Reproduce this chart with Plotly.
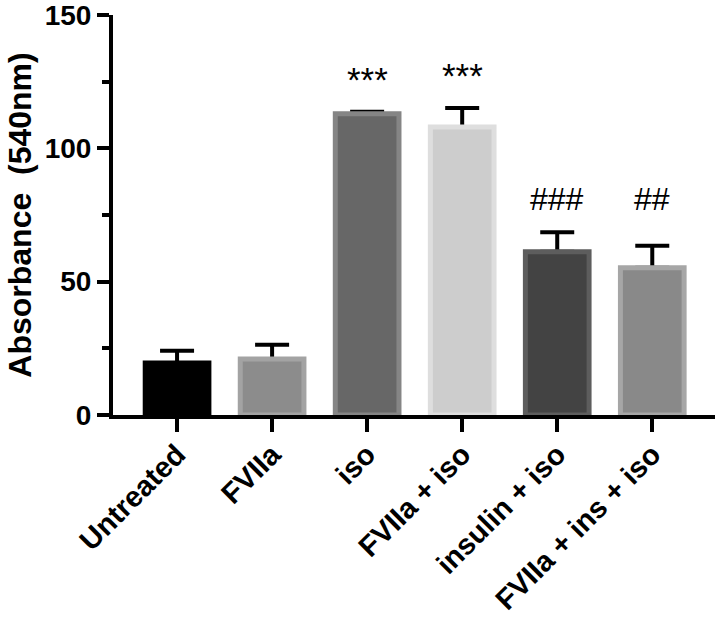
import plotly.graph_objects as go

categories = ["Untreated", "FVIIa", "iso", "FVIIa + iso", "insulin + iso", "FVIIa + ins + iso"]
means = [19.5, 21.0, 113.0, 108.0, 61.2, 55.2]
sem_up = [4.6, 5.3, 0.7, 7.1, 7.3, 8.3]
sig_labels = ["", "", "***", "***", "###", "##"]

fill_colors = ["#000000", "#8c8c8c", "#676767", "#cdcdcd", "#434343", "#898989"]
edge_colors = ["#000000", "#a3a3a3", "#858585", "#dedede", "#5d5d5d", "#a6a6a6"]

x_idx = list(range(len(categories)))
BAR_W = 0.67
FONT = "Liberation Sans, Arial, sans-serif"

fig = go.Figure()
# error bars (drawn underneath the bars so only the upper whisker shows)
fig.add_trace(go.Bar(
    x=x_idx, y=means, width=BAR_W,
    marker=dict(color="rgba(0,0,0,0)", line=dict(width=0)),
    error_y=dict(type="data", symmetric=False, array=sem_up,
                 arrayminus=[0] * len(means), color="black",
                 thickness=4, width=17),
    showlegend=False, hoverinfo="skip",
))
fig.add_trace(go.Bar(
    x=x_idx, y=means, width=BAR_W,
    marker=dict(color=fill_colors, line=dict(color=edge_colors, width=5)),
    showlegend=False,
))

tops = [m + e for m, e in zip(means, sem_up)]
hash_level = max(t for t, lab in zip(tops, sig_labels) if lab.startswith("#"))
for i, lab in enumerate(sig_labels):
    if not lab:
        continue
    is_star = lab.startswith("*")
    fig.add_annotation(
        x=x_idx[i], y=tops[i] if is_star else hash_level, xref="x", yref="y",
        text=lab, showarrow=False, yanchor="bottom",
        yshift=11 if is_star else 13,
        font=dict(family=FONT, size=35 if is_star else 32, color="black"),
    )

# y-axis title
fig.add_annotation(
    x=-0.155, y=0.5, xref="paper", yref="paper",
    text="<b>Absorbance  (540nm)</b>", textangle=-90, showarrow=False,
    xanchor="center", yanchor="middle",
    font=dict(family=FONT, size=32, color="black"),
)

fig.update_layout(
    width=720, height=618,
    margin=dict(l=113, r=5, t=15, b=203),
    paper_bgcolor="white", plot_bgcolor="white",
    barmode="overlay",
    font=dict(family=FONT, color="black"),
)
fig.update_xaxes(
    automargin=False,
    range=[-0.674, 5.66], tickvals=x_idx, ticktext=categories,
    tickangle=-45, showline=True, linewidth=4, linecolor="black",
    ticks="outside", ticklen=13, tickwidth=4, tickcolor="black",
    ticklabelstandoff=-6, ticklabeloverflow="allow",
    tickfont=dict(family=FONT, size=29, color="black", weight="bold"),
    showgrid=False, zeroline=False,
)
fig.update_yaxes(
    automargin=False,
    range=[0, 150], tickvals=[0, 50, 100, 150],
    showline=True, linewidth=4, linecolor="black",
    ticks="outside", ticklen=12, tickwidth=4, tickcolor="black",
    ticklabeloverflow="allow",
    minor=dict(tickvals=[25, 75, 125], ticks="outside", ticklen=7, tickwidth=4, tickcolor="black"),
    tickfont=dict(family=FONT, size=28, color="black", weight="bold"),
    showgrid=False, zeroline=False,
)

fig.write_html(
    "out.html",
    config={"displayModeBar": False},
    post_script="document.body.style.margin='0';document.body.style.overflow='hidden';",
)
